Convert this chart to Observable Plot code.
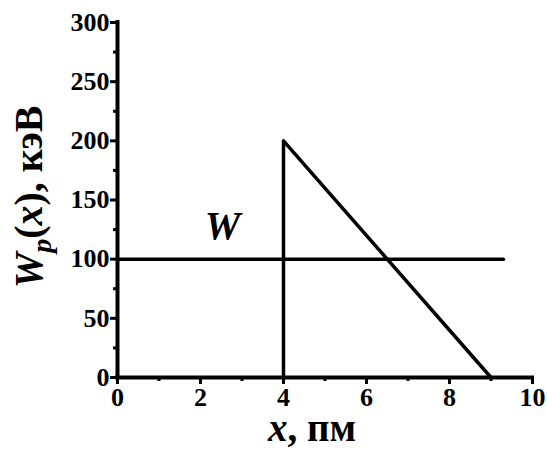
<!DOCTYPE html>
<html>
<head>
<meta charset="utf-8">
<script src="https://cdn.jsdelivr.net/npm/d3@7"></script>
<script src="https://cdn.jsdelivr.net/npm/@observablehq/plot@0.6"></script>
<style>
  html, body { margin: 0; padding: 0; background: #fff; }
  svg, svg text { font-family: "Liberation Serif", "Times New Roman", serif !important; }
</style>
</head>
<body>
<div id="chart"></div>
<script>
// Data
const wLineX = [0, 9.3];
const wLineY = [100, 100];
const potentialX = [4, 4, 9];
const potentialY = [0, 200, 0];
const xTicks = [0, 2, 4, 6, 8, 10];
const xMinorTicks = [1, 3, 5, 7, 9];
const yTicks = [0, 50, 100, 150, 200, 250, 300];
const yMinorTicks = [25, 75, 125, 175, 225, 275];
const annotation = [{x: 2.53, y: 128, text: "W"}];

const wLine = wLineX.map((x, i) => ({x, y: wLineY[i]}));
const potential = potentialX.map((x, i) => ({x, y: potentialY[i]}));

const FONT = "'Liberation Serif', 'Times New Roman', serif";

const chart = Plot.plot({
  width: 547,
  height: 449,
  marginLeft: 117,
  marginRight: 15,
  marginTop: 22,
  marginBottom: 72,
  x: {domain: [0, 10]},
  y: {domain: [0, 300]},
  style: {fontFamily: FONT, color: "#000", background: "#fff"},
  marks: [
    Plot.axisX(xTicks, {tickSize: 7, strokeWidth: 3, tickPadding: 3, fontSize: 26, fontWeight: "bold", fontFamily: FONT, label: null}),
    Plot.axisX(xMinorTicks, {tickSize: 4, strokeWidth: 3, text: null, label: null}),
    Plot.axisY(yTicks, {tickSize: 7, strokeWidth: 3, tickPadding: 1, fontSize: 26, fontWeight: "bold", fontFamily: FONT, label: null}),
    Plot.axisY(yMinorTicks, {tickSize: 4, strokeWidth: 3, text: null, label: null}),
    Plot.line(wLine, {x: "x", y: "y", stroke: "#000", strokeWidth: 3.5}),
    Plot.line(potential, {x: "x", y: "y", stroke: "#000", strokeWidth: 3.5}),
    Plot.ruleX([0], {stroke: "#000", strokeWidth: 4, strokeLinecap: "square"}),
    Plot.ruleY([0], {stroke: "#000", strokeWidth: 4, strokeLinecap: "square"}),
    Plot.text(annotation, {x: "x", y: "y", text: "text", fontSize: 40, fontWeight: "bold", fontStyle: "italic", fontFamily: FONT, fill: "#000"})
  ]
});

const svg = d3.select(chart);
// Y axis title
const yt = svg.append("text")
  .attr("transform", "translate(42,197) rotate(-90)")
  .attr("text-anchor", "middle")
  .attr("font-family", FONT)
  .attr("font-size", 40)
  .attr("font-weight", "bold")
  .attr("fill", "#000");
yt.append("tspan").attr("font-style", "italic").text("W");
yt.append("tspan").attr("font-style", "italic").attr("font-size", 28).attr("dy", 9).text("p");
yt.append("tspan").attr("dy", -9).text("(");
yt.append("tspan").attr("font-style", "italic").text("x");
yt.append("tspan").text("), кэВ");

// X axis title
const xt = svg.append("text")
  .attr("x", 312)
  .attr("y", 441)
  .attr("text-anchor", "middle")
  .attr("font-family", FONT)
  .attr("font-size", 39)
  .attr("font-weight", "bold")
  .attr("fill", "#000");
xt.append("tspan").attr("font-style", "italic").text("x");
xt.append("tspan").text(", пм");

document.getElementById("chart").appendChild(chart);
</script>
</body>
</html>
